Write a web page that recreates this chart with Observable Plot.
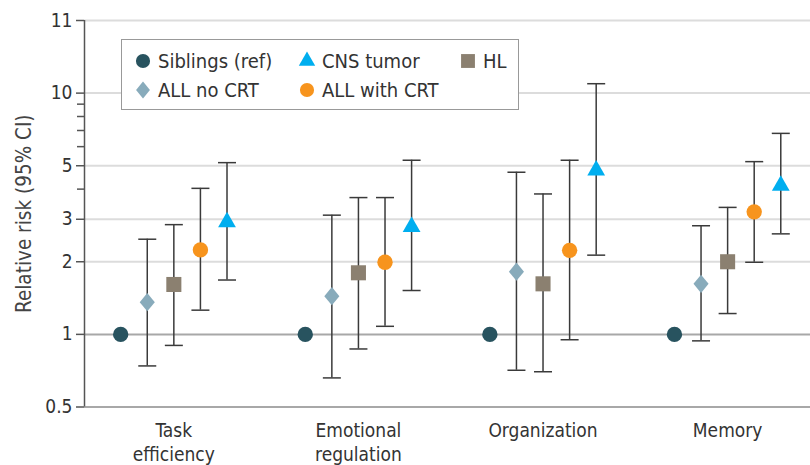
<!DOCTYPE html>
<html>
<head>
<meta charset="utf-8">
<script src="https://cdn.jsdelivr.net/npm/d3@7"></script>
<script src="https://cdn.jsdelivr.net/npm/@observablehq/plot@0.6"></script>
<style>
  html, body { margin: 0; padding: 0; background: #fff; overflow: hidden; }
  #wrap { position: relative; width: 810px; height: 465px; font-family: "DejaVu Sans Condensed", "DejaVu Sans", sans-serif; font-stretch: condensed; }
  #legend { position: absolute; left: 121px; top: 39px; width: 396px; height: 69px; border: 1.5px solid #999; background: #fff; color: #333; font-size: 20px; }
  .item { position: absolute; display: flex; align-items: center; white-space: nowrap; }
  .item svg { margin-right: 6px; }
</style>
</head>
<body>
<div id="wrap"><div id="legend"></div></div>
<script>
// ---- data ----
const categories = ["Task efficiency", "Emotional regulation", "Organization", "Memory"];
const categoryLabels = ["Task\nefficiency", "Emotional\nregulation", "Organization", "Memory"];
const series = ["Siblings (ref)", "ALL no CRT", "HL", "ALL with CRT", "CNS tumor"];

const rrSiblings = [1, 1, 1, 1];

const rrAllNoCrt = [1.36, 1.44, 1.82, 1.62];
const loAllNoCrt = [0.74, 0.66, 0.71, 0.94];
const hiAllNoCrt = [2.48, 3.12, 4.70, 2.82];

const rrHL = [1.61, 1.80, 1.62, 2.00];
const loHL = [0.90, 0.87, 0.70, 1.22];
const hiHL = [2.85, 3.69, 3.82, 3.36];

const rrAllCrt = [2.24, 1.99, 2.23, 3.22];
const loAllCrt = [1.26, 1.08, 0.95, 1.99];
const hiAllCrt = [4.03, 3.69, 5.27, 5.20];

const rrCns = [2.92, 2.79, 4.79, 4.14];
const loCns = [1.68, 1.52, 2.13, 2.61];
const hiCns = [5.15, 5.27, 10.94, 6.81];

const yTicks = [0.5, 1, 2, 3, 5, 10, 20];
const yTickLabels = ["0.5", "1", "2", "3", "5", "10", "11"];
const yMinorTicks = [4, 6, 7, 8, 9];
const yGrid = [2, 3, 5, 10, 20];

// ---- styles ----
const diamondSymbol = {
  draw(ctx, size) {
    const r = Math.sqrt(size / Math.PI);
    const hy = r * 1.12, hx = r * 0.92;
    ctx.moveTo(0, -hy); ctx.lineTo(hx, 0); ctx.lineTo(0, hy); ctx.lineTo(-hx, 0); ctx.closePath();
  }
};
const colors = ["#28535f", "#88abbb", "#8b8070", "#f7941d", "#00aeef"];
const symbols = ["circle", diamondSymbol, "square", "circle", "triangle"];
const radii = [7.7, 8.2, 8.5, 7.7, 6.6];
const legendOrder = [0, 4, 2, 1, 3];

const estimates = [rrSiblings, rrAllNoCrt, rrHL, rrAllCrt, rrCns];
const lows = [null, loAllNoCrt, loHL, loAllCrt, loCns];
const highs = [null, hiAllNoCrt, hiHL, hiAllCrt, hiCns];

const seriesStep = 0.144;
const rows = [];
series.forEach((s, j) => {
  categories.forEach((c, i) => {
    rows.push({
      series: s, sIndex: j, category: c,
      pos: i + (j - 2) * seriesStep,
      est: estimates[j][i],
      lo: lows[j] ? lows[j][i] : null,
      hi: highs[j] ? highs[j][i] : null
    });
  });
});
const ciRows = rows.filter(d => d.lo != null);

const capSymbol = {
  draw(ctx, size) {
    const w = Math.sqrt(size / Math.PI);
    ctx.moveTo(-w, 0);
    ctx.lineTo(w, 0);
  }
};

const xDomain = [-0.484, 3.449];

const chart = Plot.plot({
  width: 810,
  height: 465,
  marginLeft: 84,
  marginRight: 0,
  marginTop: 20,
  marginBottom: 58.5,
  style: { fontFamily: '"DejaVu Sans Condensed", "DejaVu Sans", sans-serif', fontSize: "19px", color: "#333", background: "#fff" },
  x: { type: "linear", domain: xDomain },
  y: { type: "log", domain: [0.5, 20] },
  marks: [
    Plot.ruleY(yGrid, { stroke: "#dcdcdc", strokeWidth: 2 }),
    Plot.ruleY([1], { stroke: "#a8a8a8", strokeWidth: 2 }),
    Plot.ruleY([0.5], { stroke: "#a8a8a8", strokeWidth: 2 }),
    Plot.ruleX([xDomain[0]], { y1: 0.5, y2: 20, stroke: "#555", strokeWidth: 1.5 }),
    Plot.axisY({ ticks: yTicks, tickFormat: d => yTickLabels[yTicks.indexOf(d)], tickSize: 8, tickPadding: 4, stroke: "#555", strokeWidth: 1.5, fill: "#333", fontSize: 19, label: null }),
    Plot.axisY({ ticks: yMinorTicks, tickFormat: () => "", tickSize: 7, stroke: "#555", strokeWidth: 1.5, label: null }),
    Plot.axisX({ ticks: [0, 1, 2, 3], tickFormat: i => categoryLabels[i], tickSize: 0, tickPadding: 12, fontSize: 19, lineHeight: 1.3, fill: "#333", label: null }),
    Plot.text(["Relative risk (95% CI)"], { frameAnchor: "left", textAnchor: "middle", dx: -60, rotate: -90, text: d => d, fontSize: 20.5, fill: "#444" }),
    Plot.ruleX(ciRows, { x: "pos", y1: "lo", y2: "hi", stroke: "#3a3a3a", strokeWidth: 1.5 }),
    Plot.dot(ciRows, { x: "pos", y: "lo", symbol: capSymbol, r: 9, stroke: "#3a3a3a", strokeWidth: 1.5, fill: "none" }),
    Plot.dot(ciRows, { x: "pos", y: "hi", symbol: capSymbol, r: 9, stroke: "#3a3a3a", strokeWidth: 1.5, fill: "none" }),
    ...series.map((s, j) => Plot.dot(rows.filter(d => d.sIndex === j), {
      x: "pos", y: "est", symbol: symbols[j], r: radii[j], fill: colors[j], stroke: "none"
    }))
  ]
});
document.getElementById("wrap").prepend(chart);

// ---- legend ----
function symbolSvg(j) {
  const size = 20;
  const sym = typeof symbols[j] === "string"
    ? { circle: d3.symbolCircle, square: d3.symbolSquare, triangle: d3.symbolTriangle }[symbols[j]]
    : symbols[j];
  const path = d3.symbol(sym, Math.PI * (radii[j] * 0.92) ** 2)();
  return `<svg width="${size}" height="${size}" viewBox="${-size / 2} ${-size / 2} ${size} ${size}"><path d="${path}" fill="${colors[j]}"/></svg>`;
}
const legend = document.getElementById("legend");
const colX = [11, 175, 336];
const rowY = [21, 50];
legendOrder.forEach((j, k) => {
  const col = k % 3, row = Math.floor(k / 3);
  const el = document.createElement("div");
  el.className = "item";
  el.style.left = colX[col] + "px";
  el.style.top = (rowY[row] - 12) + "px";
  el.style.height = "24px";
  el.innerHTML = symbolSvg(j) + `<span style="margin-left:-1px">${series[j]}</span>`;
  legend.appendChild(el);
});
</script>
</body>
</html>
